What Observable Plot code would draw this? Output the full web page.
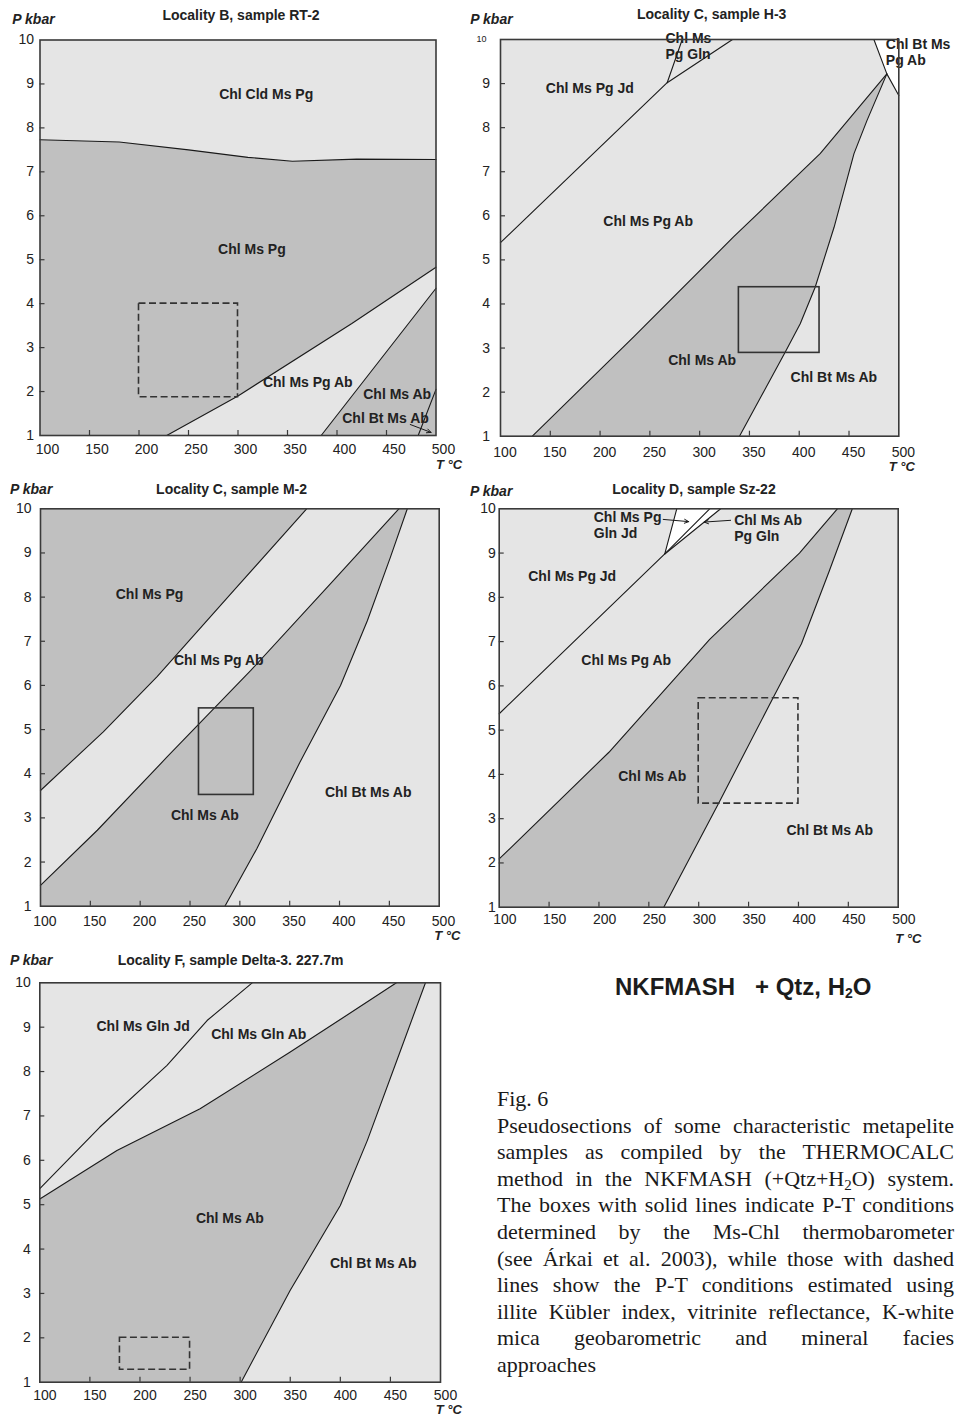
<!DOCTYPE html>
<html>
<head>
<meta charset="utf-8">
<script src="https://cdn.jsdelivr.net/npm/d3@7"></script>
<script src="https://cdn.jsdelivr.net/npm/@observablehq/plot@0.6"></script>
<style>
  html, body { margin: 0; padding: 0; background: #fff; }
  #page { position: relative; width: 956px; height: 1417px; overflow: hidden; background: #fff; }
  #page svg { position: absolute; overflow: visible; }
  #head { position: absolute; left: 615px; top: 973px; font: bold 24px/28px 'Liberation Sans', Arial, sans-serif; color: #1c1c1c; white-space: pre; }
  #head sub { font-size: 14px; line-height: 0; vertical-align: -3px; }
  #cap { position: absolute; left: 497px; top: 1086px; width: 457px; font: 22px/26.6px 'Liberation Serif', 'Times New Roman', serif; color: #1a1a1a; }
  #cap .j { text-align: justify; text-align-last: justify; }
  #cap .l { text-align: left; }
  #cap sub { font-size: 15px; line-height: 0; vertical-align: -4px; }
</style>
</head>
<body>
<div id="page">
  <div id="head">NKFMASH   + Qtz, H<sub>2</sub>O</div>
  <div id="cap">
    <div class="l">Fig. 6</div>
    <div class="j">Pseudosections of some characteristic metapelite</div>
    <div class="j">samples as compiled by the THERMOCALC</div>
    <div class="j">method in the NKFMASH (+Qtz+H<sub>2</sub>O) system.</div>
    <div class="j">The boxes with solid lines indicate P-T conditions</div>
    <div class="j">determined by the Ms-Chl thermobarometer</div>
    <div class="j">(see Árkai et al. 2003), while those with dashed</div>
    <div class="j">lines show the P-T conditions estimated using</div>
    <div class="j">illite Kübler index, vitrinite reflectance, K-white</div>
    <div class="j">mica geobarometric and mineral facies</div>
    <div class="l">approaches</div>
  </div>
</div>
<script>
// ---------------- shared axis values ----------------
const xTickValues = [100, 150, 200, 250, 300, 350, 400, 450, 500];
const yTickValues = [1, 2, 3, 4, 5, 6, 7, 8, 9, 10];

// ---------------- Panel 1: Locality B, sample RT-2 ----------------
const p1Title = "Locality B, sample RT-2";
const p1LineCld = [[100,7.73],[180,7.68],[250,7.5],[310,7.33],[355,7.24],[420,7.29],[500,7.28]];
const p1LineAb  = [[228,1],[300,1.9],[415,3.55],[500,4.83]];
const p1LinePg  = [[384,1],[500,4.35]];
const p1LineBt  = [[482,1],[500,2.05]];
const p1Boxes   = [{t1:200, t2:300, p1:1.87, p2:4}];
const p1Arrows  = [{t1:474, p1:1.25, t2:495, p2:1.07}];
const p1Labels  = [
  {text:"Chl Cld Ms Pg", t:328.5, p:8.75},
  {text:"Chl Ms Pg",     t:314,   p:5.23},
  {text:"Chl Ms Pg Ab",  t:370.5, p:2.21},
  {text:"Chl Ms Ab",     t:460.8, p:1.93},
  {text:"Chl Bt Ms Ab",  t:449,   p:1.39}
];

// ---------------- Panel 2: Locality C, sample H-3 ----------------
const p2Title = "Locality C, sample H-3";
const p2LineJd  = [[100,5.39],[267.4,9.02],[333,10]];
const p2LineGln = [[267.4,9.02],[282.5,10]];
const p2LineAb  = [[132,1],[234,3.26],[334,5.52],[421,7.41],[488,9.22]];
const p2LineBt  = [[340,1],[386,2.91],[401,3.55],[416,4.38],[435,5.74],[455,7.41],[468,8.16],[488,9.22]];
const p2LineTop = [[475,10],[488,9.22],[500,8.73]];
const p2Boxes   = [{t1:339.4, t2:420.4, p1:2.89, p2:4.38}];
const p2Labels  = [
  {text:"Chl Ms Pg Jd", t:189.7, p:8.88},
  {text:"Chl Ms Pg Ab", t:248.3, p:5.87},
  {text:"Chl Ms Ab",    t:302.5, p:2.72},
  {text:"Chl Bt Ms Ab", t:434.8, p:2.34}
];
const p2StartLabels = [
  {text:"Chl Ms\nPg Gln",    t:265.7, p:9.85},
  {text:"Chl Bt Ms\nPg Ab",  t:487,   p:9.71}
];

// ---------------- Panel 3: Locality C, sample M-2 ----------------
const p3Title = "Locality C, sample M-2";
const p3LinePg = [[100,3.62],[163,4.95],[217,6.2],[294,8.15],[367,10]];
const p3LineAb = [[100,1.47],[157,2.72],[227,4.38],[311,6.34],[394,8.38],[459.5,10]];
const p3LineBt = [[285,1],[317,2.3],[360,4.25],[401,6],[428,7.47],[451,8.9],[468,10]];
const p3Boxes  = [{t1:259, t2:314, p1:3.52, p2:5.48}];
const p3Labels = [
  {text:"Chl Ms Pg",    t:209.4, p:8.06},
  {text:"Chl Ms Pg Ab", t:278.9, p:6.56},
  {text:"Chl Ms Ab",    t:264.9, p:3.05},
  {text:"Chl Bt Ms Ab", t:428.8, p:3.58}
];

// ---------------- Panel 4: Locality D, sample Sz-22 ----------------
const p4Title = "Locality D, sample Sz-22";
const p4LineJd    = [[100,5.37],[266,8.98],[322,10]];
const p4LineGlnJd = [[266,8.98],[278,10]];
const p4LineGln   = [[266,8.98],[311,10]];
const p4LineAb    = [[100,2.09],[210,4.5],[311,7.05],[401,9.0],[439,10]];
const p4LineBt    = [[265,1],[320,3.35],[375,5.75],[403,6.95],[431,8.6],[454,10]];
const p4Wedge     = [[266,8.98],[278,10],[322,10]];
const p4Boxes     = [{t1:300, t2:400, p1:3.34, p2:5.72}];
const p4Arrows    = [{t1:264.4, p1:9.76, t2:290, p2:9.71}, {t1:332, p1:9.74, t2:305.5, p2:9.70}];
const p4Labels = [
  {text:"Chl Ms Pg Jd", t:173.2, p:8.47},
  {text:"Chl Ms Pg Ab", t:227.3, p:6.57},
  {text:"Chl Ms Ab",    t:253.4, p:3.95},
  {text:"Chl Bt Ms Ab", t:431.4, p:2.73}
];
const p4StartLabels = [
  {text:"Chl Ms Pg\nGln Jd", t:194.8, p:9.63},
  {text:"Chl Ms Ab\nPg Gln", t:335.6, p:9.57}
];

// ---------------- Panel 5: Locality F, sample Delta-3. 227.7m ----------------
const p5Title = "Locality F, sample Delta-3. 227.7m";
const p5LineJd = [[100,5.36],[160,6.75],[227,8.14],[267,9.15],[312,10]];
const p5LineAb = [[100,5.13],[177,6.22],[260,7.16],[350,8.44],[403,9.22],[456,10]];
const p5LineBt = [[301,1],[350,3.07],[400,4.98],[427,6.45],[460,8.47],[485,10]];
const p5Boxes  = [{t1:180, t2:250, p1:1.28, p2:2}];
const p5Labels = [
  {text:"Chl Ms Gln Jd", t:203.2, p:9.02},
  {text:"Chl Ms Gln Ab", t:318.6, p:8.83},
  {text:"Chl Ms Ab",     t:289.7, p:4.68},
  {text:"Chl Bt Ms Ab",  t:432.8, p:3.67}
];

// ---------------- styling ----------------
const FONT = "'Liberation Sans', Arial, Helvetica, sans-serif";
const LIGHT = "#e5e5e5", MID = "#c0c0c0", INK = "#1a1a1a", FRAMEC = "#3a3a3a", TXT = "#222222";
const rev = a => a.slice().reverse();
const CENTER = {textAnchor: "middle", lineAnchor: "middle"};

function buildPanel(c) {
  const [fx0, fy0, fx1, fy1] = c.frame;
  const iw = fx1 - fx0, ih = fy1 - fy0;
  const ml = fx0 - c.left, mt = fy0 - c.top;
  const mr = c.width - ml - iw, mb = c.height - mt - ih;
  const X = d => d[0], Y = d => d[1];
  const marks = [Plot.frame({fill: LIGHT, stroke: "none"})];
  for (const poly of c.mid) marks.push(Plot.line(poly, {x: X, y: Y, fill: MID, stroke: "none"}));
  for (const poly of (c.white || [])) marks.push(Plot.line(poly, {x: X, y: Y, fill: "#ffffff", stroke: "none"}));
  for (const ln of c.lines) marks.push(Plot.line(ln, {x: X, y: Y, stroke: INK, strokeWidth: 1.1, strokeLinejoin: "round"}));
  const boxOpts = {x1: "t1", x2: "t2", y1: "p1", y2: "p2", fill: "none", stroke: "#333", strokeWidth: 1.6};
  if (c.dashed) boxOpts.strokeDasharray = "7,3.5";
  marks.push(Plot.rect(c.boxes, boxOpts));
  if (c.arrows) marks.push(Plot.arrow(c.arrows, {x1: "t1", y1: "p1", x2: "t2", y2: "p2", stroke: INK, strokeWidth: 1, headLength: 7, headAngle: 50}));
  marks.push(Plot.text(c.labels, {x: "t", y: "p", text: "text", fontSize: 14, fontWeight: "bold", fill: TXT}));
  if (c.startLabels) marks.push(Plot.text(c.startLabels, {x: "t", y: "p", text: "text", fontSize: 14, fontWeight: "bold", fill: TXT, textAnchor: "start", lineHeight: 1.15}));
  // inward ticks
  marks.push(Plot.tickX(xTickValues.slice(1, -1), {x: d => d, insetTop: ih - 5, stroke: FRAMEC, strokeWidth: 1.2}));
  marks.push(Plot.tickY(yTickValues.slice(1, -1), {y: d => d, insetRight: iw - 5, stroke: FRAMEC, strokeWidth: 1.2}));
  marks.push(Plot.frame({stroke: FRAMEC, strokeWidth: 1.6}));
  // axes (labels only)
  marks.push(Plot.axisX({ticks: xTickValues, tickSize: 0, tickPadding: c.xPad, dx: c.xDx, fontSize: 14, color: TXT, label: null}));
  const yShown = c.small10 ? yTickValues.slice(0, -1) : yTickValues;
  marks.push(Plot.axisY({ticks: yShown, tickSize: 0, tickPadding: c.yPad, fontSize: 14, color: TXT, label: null}));
  if (c.small10) marks.push(Plot.text(["10"], {frameAnchor: "top-left", ...CENTER, text: d => d, dx: -19, dy: 0, fontSize: 9, fill: TXT}));
  // titles and axis names
  marks.push(Plot.text([c.title], {frameAnchor: "top", ...CENTER, text: d => d, dx: c.titleD[0], dy: c.titleD[1], fontSize: 14, fontWeight: "bold", fill: TXT}));
  marks.push(Plot.text(["P kbar"], {frameAnchor: "top-left", ...CENTER, text: d => d, dx: c.pD[0], dy: c.pD[1], fontSize: 14, fontWeight: "bold", fontStyle: "italic", fill: TXT}));
  marks.push(Plot.text(["T °C"], {frameAnchor: "bottom-right", ...CENTER, text: d => d, dx: c.tD[0], dy: c.tD[1], fontSize: 13, fontWeight: "bold", fontStyle: "italic", fill: TXT}));

  const svg = Plot.plot({
    width: c.width, height: c.height,
    marginLeft: ml, marginTop: mt, marginRight: mr, marginBottom: mb,
    x: {domain: [100, 500]},
    y: {domain: [1, 10]},
    style: {fontFamily: FONT, background: "none", overflow: "visible"},
    marks
  });
  svg.style.left = c.left + "px";
  svg.style.top = c.top + "px";
  svg.style.maxWidth = "none";
  document.getElementById("page").appendChild(svg);
}

const layouts = [
  { title: p1Title, left: 0, top: 0, width: 476, height: 470, frame: [39.5, 39.5, 435.5, 435],
    mid: [[[100,1], ...p1LineCld, ...rev(p1LineAb)], [...p1LinePg, [500,1]]],
    lines: [p1LineCld, p1LineAb, p1LinePg, p1LineBt],
    boxes: p1Boxes, dashed: true, arrows: p1Arrows, labels: p1Labels,
    xPad: 8.5, xDx: 7.5, yPad: 6, titleD: [3, -24.5], pD: [-6.5, -20.5], tD: [13, 29] },
  { title: p2Title, left: 476, top: 0, width: 480, height: 470, frame: [500, 39, 898.3, 435.7],
    mid: [[...p2LineAb, ...rev(p2LineBt)]],
    white: [[...p2LineTop, [500,10]]],
    lines: [p2LineJd, p2LineGln, p2LineAb, p2LineBt, p2LineTop],
    boxes: p2Boxes, dashed: false, labels: p2Labels, startLabels: p2StartLabels, small10: true,
    xPad: 11, xDx: 4.5, yPad: 10.5, titleD: [12, -25], pD: [-9, -19.5], tD: [3, 31] },
  { title: p3Title, left: 0, top: 470, width: 476, height: 470, frame: [40, 508.3, 438.7, 905.7],
    mid: [[[100,10], ...p3LinePg], [[100,1], ...p3LineAb, ...rev(p3LineBt)]],
    lines: [p3LinePg, p3LineAb, p3LineBt],
    boxes: p3Boxes, dashed: false, labels: p3Labels,
    xPad: 10, xDx: 4.3, yPad: 9, titleD: [-8.3, -19.3], pD: [-9.3, -19.3], tD: [8, 30] },
  { title: p4Title, left: 476, top: 470, width: 480, height: 470, frame: [498.7, 508.3, 897.7, 906.7],
    mid: [[[100,1], ...p4LineAb, ...rev(p4LineBt)]],
    white: [p4Wedge],
    lines: [p4LineJd, p4LineGlnJd, p4LineGln, p4LineAb, p4LineBt],
    boxes: p4Boxes, dashed: true, arrows: p4Arrows, labels: p4Labels, startLabels: p4StartLabels,
    xPad: 7.3, xDx: 5.6, yPad: 3.4, titleD: [-4.7, -19.3], pD: [-8, -17], tD: [10, 31.6] },
  { title: p5Title, left: 0, top: 940, width: 476, height: 477, frame: [39.3, 982.3, 440, 1381.7],
    mid: [[[100,1], ...p5LineAb, ...rev(p5LineBt)]],
    lines: [p5LineJd, p5LineAb, p5LineBt],
    boxes: p5Boxes, dashed: true, labels: p5Labels,
    xPad: 7.5, xDx: 5, yPad: 9, titleD: [-9.6, -22.3], pD: [-8.6, -22.3], tD: [8.3, 28] }
];

layouts.forEach(buildPanel);
</script>
</body>
</html>
